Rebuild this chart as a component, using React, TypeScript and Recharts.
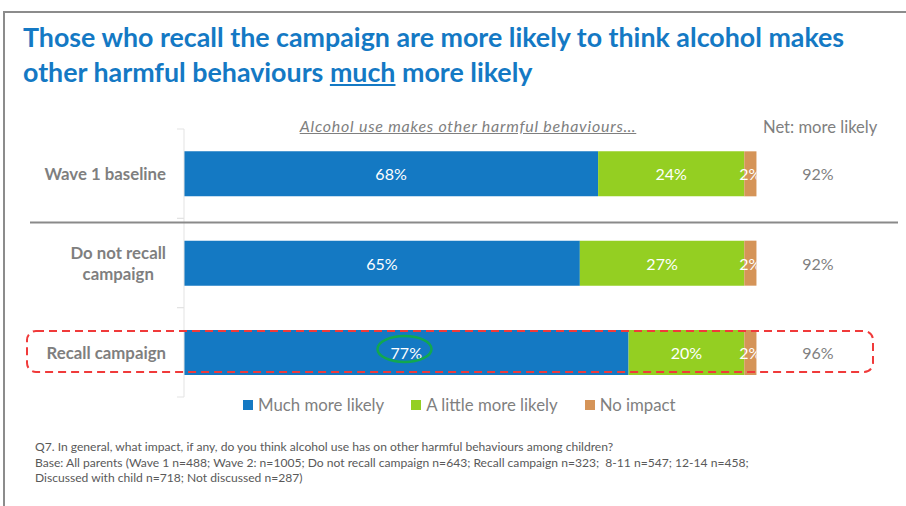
import { Bar, BarChart, LabelList, XAxis, YAxis } from 'recharts'

const categories = ['Wave 1 baseline', 'Do not recall campaign', 'Recall campaign']
const categoryLines = [['Wave 1 baseline'], ['Do not recall', 'campaign'], ['Recall campaign']]
const muchMore = [68, 65, 73]
const littleMore = [24, 27, 19]
const noImpact = [2, 2, 2]
const muchMoreLabels = ['68%', '65%', '77%']
const littleMoreLabels = ['24%', '27%', '20%']
const noImpactLabels = ['2%', '2%', '2%']
const netMoreLikely = ['92%', '92%', '96%']
const seriesNames = ['Much more likely', 'A little more likely', 'No impact']
const seriesColors = ['#1479c3', '#94cf22', '#d59458']
const footnote = [
  'Q7. In general, what impact, if any, do you think alcohol use has on other harmful behaviours among children?',
  'Base: All parents (Wave 1 n=488; Wave 2: n=1005; Do not recall campaign n=643; Recall campaign n=323;  8-11 n=547; 12-14 n=458;',
  'Discussed with child n=718; Not discussed n=287)',
]

const data = categories.map((category, i) => ({
  category,
  much: muchMore[i],
  little: littleMore[i],
  none: noImpact[i],
  muchLabel: muchMoreLabels[i],
  littleLabel: littleMoreLabels[i],
  noneLabel: noImpactLabels[i],
}))

const FONT = 'Lato, "Open Sans", sans-serif'
const GREY = '#7f7f7f'
const W = 906
const H = 506
const MARGIN = { top: 129, right: 13, bottom: 109, left: 0 }
const BAND = (H - MARGIN.top - MARGIN.bottom) / categories.length

function measure(text: string, font: string) {
  const ctx = document.createElement('canvas').getContext('2d')
  if (!ctx) return text.length * 8
  ctx.font = font
  return ctx.measureText(text).width
}

function CategoryTick({ x, y, index }: any) {
  const lines = categoryLines[index] ?? []
  const font = `bold 16.8px ${FONT}`
  const widest = Math.max(...lines.map((l) => measure(l, font)))
  const cx = x - widest / 2
  const axisX = x + 18
  const lh = 21.5
  const y0 = y - ((lines.length - 1) * lh) / 2
  return (
    <g>
      <line x1={axisX - 7} x2={axisX} y1={y - BAND / 2} y2={y - BAND / 2} stroke="#e3e3e3" />
      <line x1={axisX - 7} x2={axisX} y1={y + BAND / 2} y2={y + BAND / 2} stroke="#e3e3e3" />
      {lines.map((l, i) => (
        <text
          key={l}
          x={cx}
          y={y0 + i * lh}
          textAnchor="middle"
          dominantBaseline="central"
          fill={GREY}
          style={{ font }}
        >
          {l}
        </text>
      ))}
    </g>
  )
}

function NetTick({ x, y, index }: any) {
  return (
    <text x={x + 25} y={y} textAnchor="middle" dominantBaseline="central" fill={GREY} style={{ font: `16px ${FONT}` }}>
      {netMoreLikely[index]}
    </text>
  )
}

function segmentLabel(key: string) {
  return ({ x, y, width, height, value, index }: any) => {
    const id = `clip-${key}-${index}`
    return (
      <g>
        <clipPath id={id}>
          <rect x={x - 30} y={y} width={width + 30} height={height} />
        </clipPath>
        <text
          x={x + width / 2}
          y={y + height / 2}
          textAnchor="middle"
          dominantBaseline="central"
          fill="#ffffff"
          clipPath={`url(#${id})`}
          style={{ font: `16px ${FONT}` }}
        >
          {value}
        </text>
      </g>
    )
  }
}

export default function App() {
  return (
    <div style={{ position: 'fixed', left: 0, top: 0, width: W, height: H, background: '#fff', fontFamily: FONT, overflow: 'hidden' }}>
      <div
        style={{
          position: 'absolute',
          left: 23,
          top: 20,
          width: 870,
          fontWeight: 700,
          fontSize: 26.8,
          lineHeight: '35px',
          color: '#1479c4',
          whiteSpace: 'nowrap',
        }}
      >
        Those who recall the campaign are more likely to think alcohol makes
        <br />
        other harmful behaviours <span style={{ textDecoration: 'underline' }}>much</span> more likely
      </div>

      <div
        style={{
          position: 'absolute',
          left: 218,
          width: 500,
          top: 116,
          textAlign: 'center',
          fontStyle: 'italic',
          textDecoration: 'underline',
          fontSize: 16,
          letterSpacing: 0.75,
          color: GREY,
        }}
      >
        Alcohol use makes other harmful behaviours…
      </div>
      <div style={{ position: 'absolute', left: 763, top: 117, fontSize: 16.6, color: GREY }}>Net: more likely</div>

      <div style={{ position: 'absolute', left: 0, top: 0 }}>
        <BarChart width={W} height={H} data={data} layout="vertical" margin={MARGIN} barCategoryGap="25%">
          <XAxis type="number" domain={[0, 100]} hide />
          <YAxis
            type="category"
            dataKey="category"
            width={184}
            axisLine={{ stroke: '#e3e3e3' }}
            tickLine={false}
            tickSize={0}
            tickMargin={18}
            tick={<CategoryTick />}
            interval={0}
          />
          <YAxis
            yAxisId="net"
            orientation="right"
            type="category"
            dataKey="category"
            width={100}
            axisLine={false}
            tickLine={false}
            tickSize={0}
            tickMargin={0}
            tick={<NetTick />}
            interval={0}
          />
          <Bar dataKey="much" stackId="a" fill={seriesColors[0]} isAnimationActive={false}>
            <LabelList dataKey="muchLabel" content={segmentLabel('much')} />
          </Bar>
          <Bar dataKey="little" stackId="a" fill={seriesColors[1]} isAnimationActive={false}>
            <LabelList dataKey="littleLabel" content={segmentLabel('little')} />
          </Bar>
          <Bar dataKey="none" stackId="a" fill={seriesColors[2]} isAnimationActive={false}>
            <LabelList dataKey="noneLabel" content={segmentLabel('none')} />
          </Bar>
        </BarChart>
      </div>

      <svg width={W} height={H} style={{ position: 'absolute', left: 0, top: 0, pointerEvents: 'none' }}>
        <path d={`M4 ${H} V12 H${W}`} fill="none" stroke="#8c8c8c" strokeWidth={2} />
        <line x1={30} x2={898} y1={222.5} y2={222.5} stroke="#8a8a8a" strokeWidth={2} />
        <rect x={27} y={331} width={846} height={41} rx={9} fill="none" stroke="#f03a3a" strokeWidth={2} strokeDasharray="8 5" />
        <ellipse cx={404.5} cy={349} rx={27} ry={13} fill="none" stroke="#11a84f" strokeWidth={2.5} />
      </svg>

      <div style={{ position: 'absolute', left: 243, top: 394, display: 'flex', fontSize: 16.8, color: GREY }}>
        {seriesNames.map((name, i) => (
          <div key={name} style={{ display: 'flex', alignItems: 'center', marginRight: 27 }}>
            <span style={{ width: 10, height: 10, background: seriesColors[i], marginRight: 5, display: 'inline-block' }} />
            {name}
          </div>
        ))}
      </div>

      <div style={{ position: 'absolute', left: 35, top: 439, fontSize: 12.1, lineHeight: '15.7px', color: '#595959' }}>
        {footnote.map((l) => (
          <div key={l} style={{ whiteSpace: 'pre' }}>
            {l}
          </div>
        ))}
      </div>
    </div>
  )
}
